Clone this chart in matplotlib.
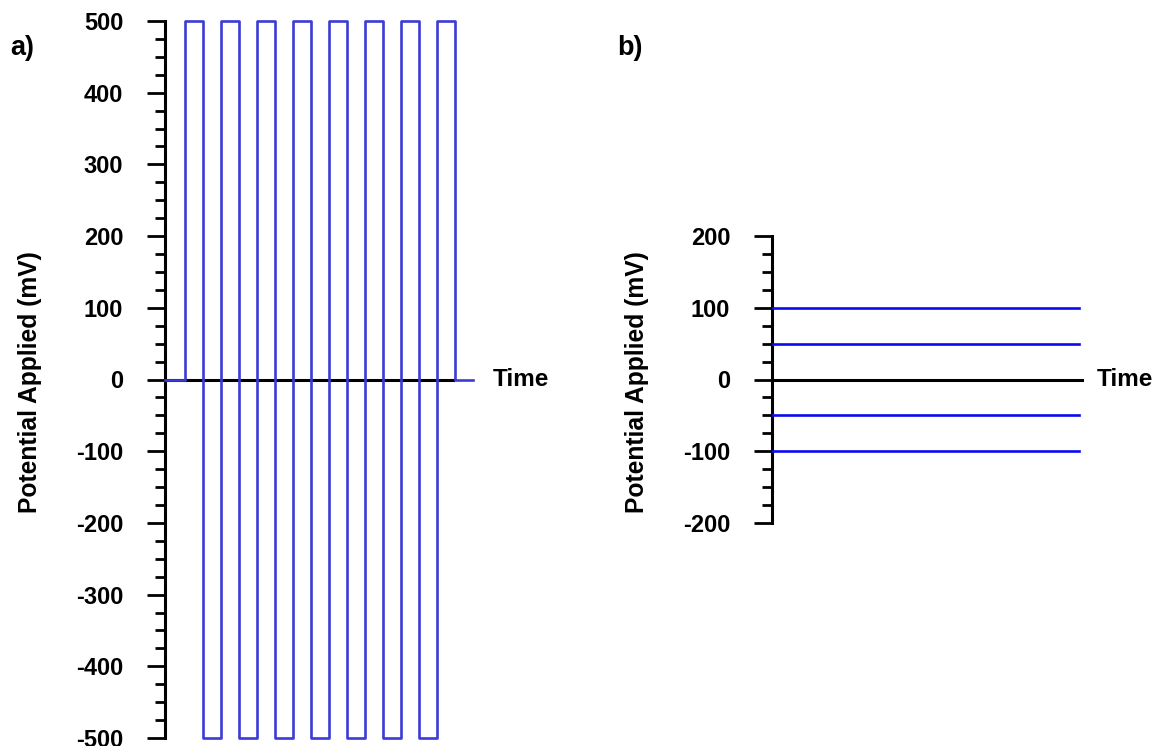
import matplotlib
matplotlib.use("Agg")
import matplotlib.pyplot as plt
from matplotlib.ticker import MultipleLocator

plt.rcParams['font.family'] = ['Liberation Sans', 'DejaVu Sans']
plt.rcParams['font.weight'] = 'bold'
plt.rcParams['axes.unicode_minus'] = False

# ---- data ----
# panel a: square-wave pulse train (time in arbitrary units, potential in mV)
pulse_times = [0, 1.1, 2.1, 3.1, 4.1, 5.1, 6.1, 7.1, 8.1, 9.1, 10.1,
               11.1, 12.1, 13.1, 14.1, 15.1, 16.1, 17.1]
pulse_levels = [0, 500, -500, 500, -500, 500, -500, 500, -500, 500, -500,
                500, -500, 500, -500, 500, 0, 0]
# panel b: constant applied potentials (mV)
const_levels = [100, 50, -50, -100]
const_t_start = 0
const_t_end = 9.9

W, H = 1156, 746
fig = plt.figure(figsize=(W / 100, H / 100), dpi=100)

def px_axes(left, right, top, bottom):
    return fig.add_axes([left / W, 1 - bottom / H, (right - left) / W, (bottom - top) / H])

blue_a = '#3b3bd6'
blue_b = '#0a0af0'
lw_spine = 2.2

def style(ax, ymaj, ymin, xbound):
    for s in ['top', 'right']:
        ax.spines[s].set_visible(False)
    ax.spines['left'].set_linewidth(lw_spine)
    ax.spines['bottom'].set_position(('data', 0))
    ax.spines['bottom'].set_linewidth(lw_spine)
    ax.spines['bottom'].set_bounds(*xbound)
    ax.set_xticks([])
    ax.yaxis.set_major_locator(MultipleLocator(ymaj))
    ax.yaxis.set_minor_locator(MultipleLocator(ymin))
    ax.tick_params(axis='y', which='major', direction='out', length=13, width=2.0,
                   pad=17, labelsize=17)
    ax.tick_params(axis='y', which='minor', direction='out', length=7, width=2.0)
    for lab in ax.get_yticklabels():
        lab.set_fontweight('bold')
    ax.set_ylabel('Potential Applied (mV)', fontsize=17.7, fontweight='bold')
    ax.yaxis.label.set_verticalalignment('center')

# ---- panel a ----
axa = px_axes(165, 475, 21, 738)
axa.step(pulse_times, pulse_levels, where='post', color=blue_a, lw=1.9,
         zorder=3, clip_on=False)
axa.set_xlim(0, 310 / 18)
axa.set_ylim(-500, 500)
style(axa, 100, 25, (0, 16.0))
axa.yaxis.set_label_coords(-0.435, (738 - 382) / (738 - 21))
axa.text(18.2, 0, 'Time', ha='left', va='center', fontsize=17.5, fontweight='bold',
         clip_on=False)

# ---- panel b ----
axb = px_axes(772, 1082, 236, 523)
for lvl in const_levels:
    axb.plot([const_t_start, const_t_end], [lvl, lvl], color=blue_b, lw=1.9, zorder=3)
axb.set_xlim(0, 10)
axb.set_ylim(-200, 200)
style(axb, 100, 25, (0, 10))
axb.yaxis.set_label_coords(-0.435, (523 - 382) / (523 - 236))
axb.text(10.48, 0, 'Time', ha='left', va='center', fontsize=17.5, fontweight='bold',
         clip_on=False)

fig.text(10 / W, 1 - 48 / H, 'a)', ha='left', va='center', fontsize=19.5, fontweight='bold')
fig.text(617 / W, 1 - 48 / H, 'b)', ha='left', va='center', fontsize=19.5, fontweight='bold')

fig.savefig('out.png', dpi=100)
